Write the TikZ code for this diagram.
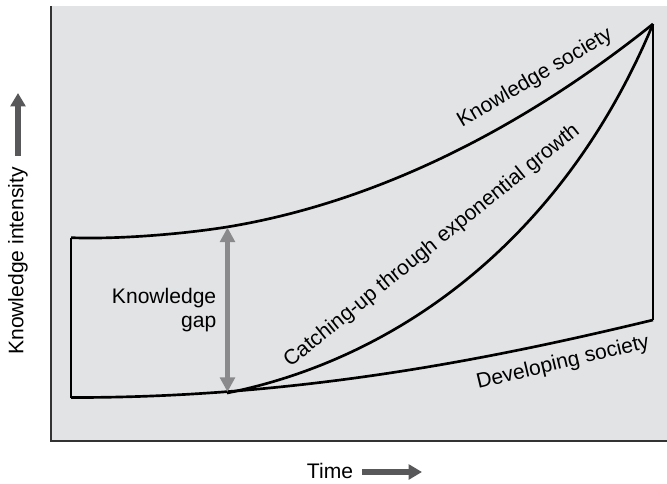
\documentclass[tikz,border=0pt]{standalone}
\usepackage{fontspec}
\setmainfont{Liberation Sans}
\usetikzlibrary{arrows.meta}
\definecolor{panel}{RGB}{226,227,229}
\definecolor{gaparrow}{RGB}{138,138,140}
\definecolor{axisarrow}{RGB}{88,88,90}
\tikzset{
  curve/.style={line width=2pt, black, line join=round},
  frame/.style={line width=1.1pt, black!80},
  lbl/.style={font=\fontsize{15.8}{18.5}\selectfont, inner sep=0pt},
  gap/.style={line width=3.6pt, gaparrow, {Triangle[width=11pt,length=11pt]}-{Triangle[width=11pt,length=11pt]}},
  axarrow/.style={line width=5pt, axisarrow, -{Triangle[width=11pt,length=10pt]}}
}
\begin{document}
\begin{tikzpicture}[x=0.75pt,y=-0.75pt]
\useasboundingbox (0,0) rectangle (667,484);
% plotting panel
\fill[panel] (51,6) rectangle (667,441);
\draw[frame] (51,6) -- (51,441) -- (667,441);
% corner points of the curves
\coordinate (ksStart) at (71,237.7);
\coordinate (ksMid) at (227,227);
\coordinate (dsStart) at (71,397.5);
\coordinate (split) at (227,393);
\coordinate (top) at (653,24);
\coordinate (dsEnd) at (653,320);
% knowledge society
\draw[curve] (ksStart) .. controls (120,239.5) and (185,233.7) .. (ksMid)
  .. controls (367,204) and (513,136) .. (top);
% developing society
\draw[curve] (dsStart) .. controls (305,398) and (503,356) .. (dsEnd);
% catching-up curve
\draw[curve] (split) .. controls (397,359) and (563,240) .. (top);
% vertical sides
\draw[curve] (ksStart) -- (dsStart);
\draw[curve] (top) -- (dsEnd);
% knowledge gap
\coordinate (gapTop) at (227.5,227.5);
\coordinate (gapBot) at (227.5,392);
\draw[gap] (gapTop) -- (gapBot);
\node[lbl, anchor=east, align=right] (gaplbl) at (216.5,310) {Knowledge\\gap};
% curve labels
\node[lbl, rotate=30.5] (kslbl) at (535,78) {Knowledge society};
\node[lbl, rotate=39] (culbl) at (432,246) {Catching-up through exponential growth};
\node[lbl, rotate=13.5] (dslbl) at (563,363) {Developing society};
% axis titles
\node[lbl, rotate=90] (ylbl) at (18,261) {Knowledge intensity};
\coordinate (yA) at (18,156);
\coordinate (yB) at (18,93);
\draw[axarrow] (yA) -- (yB);
\node[lbl] (xlbl) at (330,471) {Time};
\coordinate (xA) at (362,472);
\coordinate (xB) at (422,472);
\draw[axarrow] (xA) -- (xB);
\end{tikzpicture}
\end{document}
